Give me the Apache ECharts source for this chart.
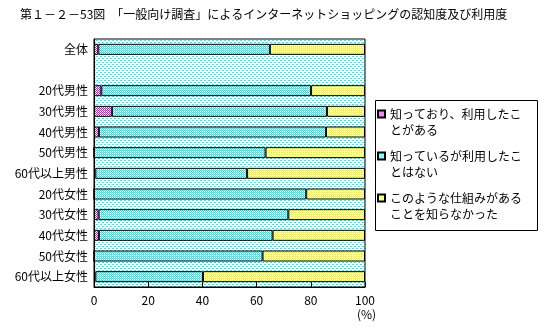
<!DOCTYPE html>
<html>
<head>
<meta charset="utf-8">
<script src="https://cdn.jsdelivr.net/npm/echarts@6/dist/echarts.min.js"></script>
<style>
html,body{margin:0;padding:0;background:#fff;}
#chart{width:545px;height:328px;}
</style>
</head>
<body>
<div id="chart"></div>
<script>
// ---- data ----
const categories = ['全体', '', '20代男性', '30代男性', '40代男性', '50代男性', '60代以上男性',
  '20代女性', '30代女性', '40代女性', '50代女性', '60代以上女性'];
const seriesNames = ['知っており、利用したことがある', '知っているが利用したことはない', 'このような仕組みがあることを知らなかった'];
const legendLines = ['知っており、利用したこ\nとがある', '知っているが利用したこ\nとはない', 'このような仕組みがある\nことを知らなかった'];
const usedValues    = [1.6, null, 2.7, 6.6, 1.8, 0,   0.5, 0,    1.7,  1.8,  0,    0.5];
const knownValues   = [63.3, null, 77.4, 79.4, 83.8, 63.3, 56.0, 78.3, 70.0, 64.1, 62.2, 39.7];
const unknownValues = [35.1, null, 19.9, 14.0, 14.4, 36.7, 43.5, 21.7, 28.3, 34.1, 37.8, 59.8];
const xTicks = { min: 0, max: 100, interval: 20 };

// ---- patterns ----
function checker(fg) {
  const c = document.createElement('canvas');
  c.width = 2; c.height = 2;
  const g = c.getContext('2d');
  g.fillStyle = '#ffffff'; g.fillRect(0, 0, 2, 2);
  g.fillStyle = fg; g.fillRect(0, 0, 1, 1); g.fillRect(1, 1, 1, 1);
  return { image: c, repeat: 'repeat' };
}
function bgPattern(fg) {
  const c = document.createElement('canvas');
  c.width = 4; c.height = 4;
  const g = c.getContext('2d');
  g.fillStyle = '#ffffff'; g.fillRect(0, 0, 4, 4);
  g.fillStyle = fg; g.fillRect(0, 0, 2, 1); g.fillRect(2, 2, 2, 1);
  return { image: c, repeat: 'repeat' };
}
const fills = [checker('#ff00ff'), checker('#00ffff'), checker('#ffff00')];
const values = [usedValues, knownValues, unknownValues];

const font = '"Noto Sans CJK JP", "Noto Sans", sans-serif';
const chart = echarts.init(document.getElementById('chart'), null, { renderer: 'canvas' });
chart.setOption({
  animation: false,
  textStyle: { fontFamily: font, color: '#000' },
  title: {
    text: '第１－２－53図　「一般向け調査」によるインターネットショッピングの認知度及び利用度',
    left: 20, top: 8, padding: 0,
    textStyle: { fontFamily: font, fontSize: 12, fontWeight: 'normal', color: '#000' }
  },
  grid: {
    left: 94, right: 180, top: 39, bottom: 41,
    show: true, borderColor: '#000', borderWidth: 1,
    backgroundColor: bgPattern('#00ffff')
  },
  legend: {
    orient: 'vertical',
    left: 377, top: 90,
    padding: 0,
    itemWidth: 7, itemHeight: 7, itemGap: -6,
    icon: 'rect',
    data: seriesNames,
    formatter: name => ' \n' + legendLines[seriesNames.indexOf(name)],
    textStyle: { fontFamily: font, fontSize: 12, color: '#000', lineHeight: 16 }
  },
  xAxis: {
    type: 'value', min: xTicks.min, max: xTicks.max, interval: xTicks.interval,
    axisLine: { show: true, lineStyle: { color: '#000' } },
    axisTick: { show: true, inside: true, length: 5, lineStyle: { color: '#000' } },
    splitLine: { show: false },
    axisLabel: { color: '#000', fontSize: 12, margin: 7, fontFamily: font }
  },
  yAxis: {
    type: 'category', data: categories, inverse: true,
    axisLine: { show: true, lineStyle: { color: '#000' } },
    axisTick: { show: false },
    axisLabel: { color: '#000', fontSize: 12, margin: 6, fontFamily: font }
  },
  graphic: [{
    type: 'rect', z: -10, silent: true,
    shape: { x: 375.5, y: 100.5, width: 162, height: 130 },
    style: { fill: '#fff', stroke: '#000', lineWidth: 1 }
  }, {
    type: 'text', left: 357, top: 308,
    style: { text: '(%)', font: '12px ' + font, fill: '#000' }
  }],
  series: seriesNames.map((n, i) => ({
    name: n, type: 'bar', stack: 'total', barWidth: 11,
    data: values[i],
    itemStyle: { color: fills[i], borderColor: '#000', borderWidth: 1 },
    emphasis: { disabled: true }
  }))
});
</script>
</body>
</html>
